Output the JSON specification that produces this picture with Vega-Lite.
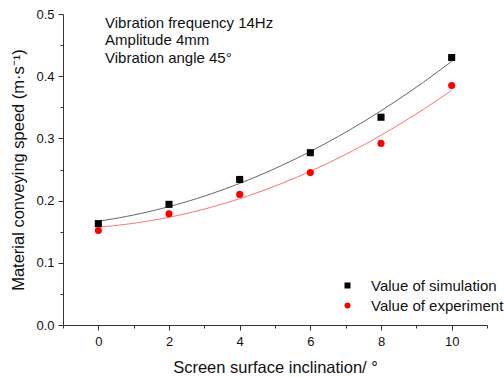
{
  "$schema": "https://vega.github.io/schema/vega-lite/v6.json",
  "width": 424,
  "height": 311,
  "autosize": {"type": "none"},
  "padding": {"left": 63, "top": 14, "right": 17, "bottom": 52},
  "config": {
    "view": {"stroke": null},
    "font": "Liberation Sans",
    "axis": {
      "grid": false,
      "domainColor": "#333333",
      "tickColor": "#333333",
      "labelColor": "#111111",
      "titleColor": "#111111",
      "labelFont": "Liberation Sans",
      "titleFont": "Liberation Sans",
      "labelFontSize": 13,
      "titleFontSize": 16.5,
      "titleFontWeight": "normal",
      "labelOverlap": false,
      "labelFlush": false
    }
  },
  "data": {
    "values": [
      {"inclination": 0, "speed": 0.163, "series": "Value of simulation"},
      {"inclination": 2, "speed": 0.194, "series": "Value of simulation"},
      {"inclination": 4, "speed": 0.234, "series": "Value of simulation"},
      {"inclination": 6, "speed": 0.277, "series": "Value of simulation"},
      {"inclination": 8, "speed": 0.334, "series": "Value of simulation"},
      {"inclination": 10, "speed": 0.430, "series": "Value of simulation"},
      {"inclination": 0, "speed": 0.152, "series": "Value of experiment"},
      {"inclination": 2, "speed": 0.179, "series": "Value of experiment"},
      {"inclination": 4, "speed": 0.210, "series": "Value of experiment"},
      {"inclination": 6, "speed": 0.245, "series": "Value of experiment"},
      {"inclination": 8, "speed": 0.292, "series": "Value of experiment"},
      {"inclination": 10, "speed": 0.385, "series": "Value of experiment"}
    ]
  },
  "encoding": {
    "x": {
      "field": "inclination",
      "type": "quantitative",
      "scale": {"domain": [-1, 11], "nice": false, "zero": false},
      "axis": {
        "title": "Screen surface inclination/ °",
        "values": [-1, 0, 1, 2, 3, 4, 5, 6, 7, 8, 9, 10, 11],
        "labelExpr": "datum.value % 2 == 0 ? datum.label : ''",
        "tickSize": {"condition": {"test": "datum.value % 2 == 0", "value": 5}, "value": 3},
        "labelPadding": 5,
        "titlePadding": 11
      }
    },
    "y": {
      "field": "speed",
      "type": "quantitative",
      "scale": {"domain": [0, 0.5], "nice": false},
      "axis": {
        "title": "Material conveying speed (m·s⁻¹)",
        "values": [0, 0.05, 0.1, 0.15, 0.2, 0.25, 0.3, 0.35, 0.4, 0.45, 0.5],
        "labelExpr": "round(datum.value * 20) % 2 == 0 ? format(datum.value, '.1f') : ''",
        "tickSize": {"condition": {"test": "round(datum.value * 20) % 2 == 0", "value": 5}, "value": 3},
        "labelPadding": 4,
        "titlePadding": 9
      }
    }
  },
  "layer": [
    {
      "transform": [
        {"filter": "datum.series == 'Value of simulation'"},
        {"regression": "speed", "on": "inclination", "method": "poly", "order": 2, "extent": [0, 10]}
      ],
      "mark": {"type": "line", "strokeWidth": 1, "color": "#666666"}
    },
    {
      "transform": [
        {"filter": "datum.series == 'Value of experiment'"},
        {"regression": "speed", "on": "inclination", "method": "poly", "order": 2, "extent": [0, 10]}
      ],
      "mark": {"type": "line", "strokeWidth": 1, "color": "#ff7373"}
    },
    {
      "mark": {"type": "point", "filled": true, "opacity": 1, "size": 50},
      "encoding": {
        "color": {
          "field": "series",
          "type": "nominal",
          "scale": {
            "domain": ["Value of simulation", "Value of experiment"],
            "range": ["#000000", "#ff0000"]
          },
          "legend": {
            "title": null,
            "orient": "none",
            "legendX": 277,
            "legendY": 264,
            "labelFontSize": 15,
            "labelFont": "Liberation Sans",
            "labelColor": "#111111",
            "labelOffset": 16,
            "symbolSize": 36,
            "symbolStrokeWidth": 0,
            "rowPadding": 4
          }
        },
        "shape": {
          "field": "series",
          "type": "nominal",
          "scale": {
            "domain": ["Value of simulation", "Value of experiment"],
            "range": ["square", "circle"]
          }
        }
      }
    },
    {
      "transform": [
        {"filter": "datum.inclination == 0 && datum.series == 'Value of simulation'"}
      ],
      "mark": {
        "type": "text",
        "align": "left",
        "baseline": "alphabetic",
        "fontSize": 15,
        "lineHeight": 17.5,
        "font": "Liberation Sans",
        "color": "#111111"
      },
      "encoding": {
        "x": {"datum": 0.19},
        "y": {"datum": 0.4775},
        "text": {"value": ["Vibration frequency 14Hz", "Amplitude 4mm", "Vibration angle 45°"]}
      }
    }
  ]
}
